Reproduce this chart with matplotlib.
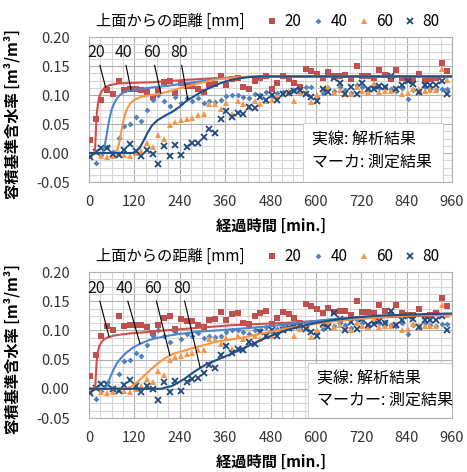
"""
上面からの距離ごとの容積基準含水率の経時変化（解析結果と測定結果の比較図）。
上段と下段は同じ測定データで、解析結果の線だけが異なる。
"""

import matplotlib.pyplot as plt
from matplotlib.patches import Rectangle
from matplotlib.ticker import MultipleLocator

plt.rcParams["font.family"] = ["Noto Sans CJK JP", "DejaVu Sans"]
plt.rcParams["axes.unicode_minus"] = False

# ---- 測定結果（マーカー） ----
TIME = [3, 18, 33, 48, 63, 78, 93, 108, 123, 138, 153, 168, 183, 198, 213, 228,
        243, 258, 273, 288, 303, 318, 333, 348, 363, 378, 393, 408, 423, 438,
        453, 468, 483, 498, 513, 528, 543, 558, 573, 588, 603, 618, 633, 648,
        663, 678, 693, 708, 723, 738, 753, 768, 783, 798, 813, 828, 843, 858,
        873, 888, 903, 918, 933, 948]

MEAS_20 = [0.022, 0.058, 0.091, 0.108, 0.101, 0.125, 0.108, 0.110, 0.110, 0.109,
           0.105, 0.096, 0.109, 0.122, 0.124, 0.103, 0.120, 0.116, 0.116, 0.110,
           0.105, 0.118, 0.119, 0.132, 0.118, 0.128, 0.130, 0.113, 0.111, 0.124,
           0.130, 0.133, 0.111, 0.121, 0.132, 0.128, 0.121, 0.113, 0.145, 0.142,
           0.136, 0.129, 0.139, 0.132, 0.133, 0.134, 0.127, 0.150, 0.132, 0.132,
           0.129, 0.143, 0.134, 0.127, 0.143, 0.130, 0.126, 0.127, 0.137, 0.124,
           0.127, 0.129, 0.156, 0.141]

MEAS_40 = [-0.003, -0.017, -0.004, 0.010, 0.001, 0.026, 0.047, 0.050, 0.062, 0.056,
           0.075, 0.091, 0.100, 0.090, 0.081, 0.097, 0.086, 0.094, 0.090, 0.095,
           0.087, 0.090, 0.088, 0.091, 0.098, 0.100, 0.100, 0.097, 0.094, 0.101,
           0.100, 0.106, 0.098, 0.103, 0.106, 0.104, 0.108, 0.103, 0.113, 0.114,
           0.097, 0.103, 0.112, 0.107, 0.113, 0.109, 0.104, 0.118, 0.113, 0.110,
           0.115, 0.112, 0.114, 0.110, 0.107, 0.112, 0.093, 0.109, 0.105, 0.113,
           0.110, 0.108, 0.111, 0.111]

MEAS_60 = [-0.003, 0.002, -0.005, -0.007, -0.005, 0.000, -0.004, -0.006, 0.000, 0.004,
           0.017, 0.011, 0.031, 0.024, 0.049, 0.054, 0.057, 0.059, 0.061, 0.066,
           0.067, 0.085, 0.084, 0.076, 0.087, 0.068, 0.090, 0.085, 0.080, 0.090,
           0.085, 0.090, 0.091, 0.097, 0.101, 0.107, 0.090, 0.103, 0.106, 0.088,
           0.100, 0.110, 0.114, 0.105, 0.109, 0.102, 0.101, 0.113, 0.107, 0.106,
           0.120, 0.106, 0.107, 0.107, 0.111, 0.101, 0.103, 0.111, 0.108, 0.107,
           0.108, 0.108, 0.144, 0.126]

MEAS_80 = [-0.007, 0.002, 0.009, 0.009, -0.001, -0.003, 0.006, 0.015, 0.004, -0.005,
           0.005, -0.001, -0.019, 0.012, -0.005, 0.013, -0.003, 0.011, 0.017, 0.018,
           0.027, 0.041, 0.035, 0.058, 0.073, 0.062, 0.069, 0.067, 0.080, 0.077,
           0.097, 0.091, 0.100, 0.091, 0.101, 0.104, 0.107, 0.109, 0.102, 0.097,
           0.090, 0.111, 0.106, 0.130, 0.120, 0.101, 0.114, 0.102, 0.120, 0.110,
           0.111, 0.116, 0.113, 0.133, 0.110, 0.117, 0.124, 0.119, 0.106, 0.117,
           0.118, 0.118, 0.124, 0.101]

# ---- 解析結果（実線）: 上段 ----
TOP_T20 = [0, 15, 17, 19, 21, 24, 28, 33, 42, 55, 78, 120, 166, 254, 333, 420, 500, 960]
TOP_V20 = [0, 0, 0.020, 0.050, 0.070, 0.087, 0.099, 0.106, 0.113, 0.117, 0.120, 0.121,
           0.122, 0.126, 0.129, 0.131, 0.132, 0.132]
TOP_T40 = [0, 36, 40, 45, 50, 55, 60, 66, 72, 80, 90, 104, 130, 166, 210, 254, 300,
           340, 400, 460, 960]
TOP_V40 = [0, 0, 0.008, 0.025, 0.045, 0.062, 0.075, 0.085, 0.092, 0.099, 0.104, 0.108,
           0.110, 0.113, 0.116, 0.120, 0.124, 0.128, 0.131, 0.132, 0.132]
TOP_T60 = [0, 68, 75, 80, 85, 90, 95, 102, 110, 120, 139, 165, 192, 220, 254, 290,
           329, 380, 440, 960]
TOP_V60 = [0, 0, 0.006, 0.018, 0.035, 0.053, 0.066, 0.078, 0.086, 0.092, 0.097, 0.100,
           0.103, 0.108, 0.114, 0.120, 0.126, 0.130, 0.132, 0.132]
TOP_T80 = [0, 115, 126, 135, 145, 155, 166, 180, 200, 223, 240, 258, 276, 294, 312,
           329, 346, 364, 382, 400, 425, 460, 960]
TOP_V80 = [0, 0, 0.003, 0.010, 0.022, 0.035, 0.047, 0.056, 0.064, 0.072, 0.080, 0.090,
           0.097, 0.104, 0.110, 0.115, 0.120, 0.124, 0.127, 0.129, 0.131, 0.132, 0.132]

# ---- 解析結果（実線）: 下段 ----
BOT_T20 = [0, 16, 18, 20, 23, 27, 33, 40, 50, 65, 85, 110, 150, 200, 260, 320, 380,
           450, 520, 600, 700, 800, 880, 960]
BOT_V20 = [0, 0, 0.020, 0.045, 0.062, 0.073, 0.080, 0.085, 0.088, 0.091, 0.093, 0.095,
           0.097, 0.100, 0.103, 0.106, 0.109, 0.111, 0.113, 0.116, 0.120, 0.123, 0.125,
           0.127]
BOT_T40 = [0, 40, 48, 55, 63, 73, 85, 99, 115, 135, 157, 179, 210, 240, 293, 340, 381,
           440, 505, 570, 637, 700, 770, 860, 960]
BOT_V40 = [0, 0, 0.006, 0.018, 0.030, 0.043, 0.053, 0.062, 0.070, 0.077, 0.083, 0.087,
           0.091, 0.094, 0.098, 0.100, 0.102, 0.105, 0.109, 0.114, 0.119, 0.122, 0.125,
           0.127, 0.128]
BOT_T60 = [0, 95, 110, 125, 140, 160, 179, 200, 223, 250, 276, 305, 338, 370, 400, 460,
           520, 575, 640, 700, 780, 860, 960]
BOT_V60 = [0, 0, 0.003, 0.010, 0.019, 0.031, 0.042, 0.052, 0.060, 0.065, 0.070, 0.075,
           0.081, 0.084, 0.087, 0.095, 0.103, 0.109, 0.115, 0.119, 0.123, 0.126, 0.127]
BOT_T80 = [0, 190, 220, 250, 280, 310, 340, 370, 400, 430, 460, 490, 520, 560, 600,
           650, 700, 760, 850, 960]
BOT_V80 = [0, 0, 0.005, 0.016, 0.030, 0.042, 0.050, 0.058, 0.067, 0.076, 0.085, 0.093,
           0.100, 0.107, 0.113, 0.118, 0.122, 0.125, 0.127, 0.129]

DEPTH_LABELS = ["20", "40", "60", "80"]
X_TICKS = [0, 120, 240, 360, 480, 600, 720, 840, 960]
Y_TICKS = [-0.05, 0.00, 0.05, 0.10, 0.15, 0.20]

MARKER_STYLE = [
    {"marker": "s", "color": "#C0504D", "ms": 5.0, "mew": 0},
    {"marker": "D", "color": "#4F81BD", "ms": 3.0, "mew": 0},
    {"marker": "^", "color": "#F79646", "ms": 4.8, "mew": 0},
    {"marker": "x", "color": "#1F497D", "ms": 4.0, "mew": 1.3},
]
LINE_COLORS = ["#CF4F4F", "#4A86C8", "#F79646", "#1F4E89"]

# 注釈ラベル (ラベル位置, 引出線の先)
TOP_NOTES = [((20, 0.173), (44, 0.113)), ((91, 0.173), (111, 0.109)),
             ((166, 0.173), (190, 0.103)), ((239, 0.173), (261, 0.093))]
BOT_NOTES = [((20, 0.172), (53, 0.089)), ((93, 0.172), (135, 0.077)),
             ((170, 0.172), (214, 0.057)), ((245, 0.172), (294, 0.036))]


def draw_panel(ax, curves, notes, box, marker_text):
    meas = [MEAS_20, MEAS_40, MEAS_60, MEAS_80]
    for label, values, st in zip(DEPTH_LABELS, meas, MARKER_STYLE):
        ax.plot(TIME, values, linestyle="none", marker=st["marker"], color=st["color"],
                markersize=st["ms"], markeredgewidth=st["mew"], label=label, zorder=3)

    for (t, v), color in zip(curves, LINE_COLORS):
        ax.plot(t, v, color=color, linewidth=1.5, zorder=4)

    for text, (xt, xy) in zip(DEPTH_LABELS, notes):
        ax.annotate(text, xy=xy, xytext=xt, ha="center", va="center", fontsize=11.5,
                    color="#111111", zorder=5,
                    arrowprops={"arrowstyle": "-", "color": "black", "lw": 0.8,
                                "shrinkA": 1, "shrinkB": 0})

    ax.set_xlim(0, 960)
    ax.set_ylim(-0.05, 0.20)
    ax.set_xticks(X_TICKS)
    ax.set_xticks(range(0, 961, 30), minor=True)
    ax.set_yticks(Y_TICKS)
    ax.set_yticklabels([f"{y:.2f}" for y in Y_TICKS])
    ax.yaxis.set_minor_locator(MultipleLocator(0.0125))
    ax.grid(which="major", color="#b0b0b0", linewidth=0.8)
    ax.grid(which="minor", color="#d6d6d6", linewidth=0.8)
    ax.set_axisbelow(True)
    ax.tick_params(which="both", length=0, labelsize=10.5, colors="#333333")
    ax.tick_params(axis="x", pad=9)
    ax.tick_params(axis="y", pad=14)
    for spine in ax.spines.values():
        spine.set_color("#b0b0b0")
        spine.set_linewidth(0.8)

    ax.set_xlabel("経過時間 [min.]", fontsize=11, fontweight="bold")
    ax.xaxis.set_label_coords(0.5, -0.245)
    ax.set_ylabel("容積基準含水率 [m³/m³]", fontsize=11, fontweight="bold")
    ax.yaxis.set_label_coords(-0.19, 0.47)

    # 凡例（上面からの距離）
    ax.text(0.02, 1.105, "上面からの距離 [mm]", transform=ax.transAxes, fontsize=11,
            ha="left", va="center")
    ax.legend(loc="center left", bbox_to_anchor=(0.49, 1.105), ncol=4, frameon=False,
              fontsize=11, handlelength=0.7, handletextpad=0.45, columnspacing=0.75,
              borderpad=0, borderaxespad=0)

    # 実線/マーカーの説明ボックス
    x0, x1, y1 = box
    ax.add_patch(Rectangle((x0, 0), x1 - x0, y1, transform=ax.transAxes,
                           facecolor="white", edgecolor="#d0d0d0", linewidth=0.8,
                           zorder=6))
    ax.text(x0 + 0.025, y1 * 0.70, "実線: 解析結果", transform=ax.transAxes,
            fontsize=11.5, va="center", ha="left", zorder=7)
    ax.text(x0 + 0.025, y1 * 0.33, marker_text, transform=ax.transAxes,
            fontsize=11.5, va="center", ha="left", zorder=7)


def main():
    fig = plt.figure(figsize=(4.67, 4.72), dpi=100)
    ax_top = fig.add_axes([0.1906, 0.6144, 0.7773, 0.3072])
    ax_bot = fig.add_axes([0.1906, 0.1144, 0.7773, 0.3093])

    top_curves = [(TOP_T20, TOP_V20), (TOP_T40, TOP_V40),
                  (TOP_T60, TOP_V60), (TOP_T80, TOP_V80)]
    bot_curves = [(BOT_T20, BOT_V20), (BOT_T40, BOT_V40),
                  (BOT_T60, BOT_V60), (BOT_T80, BOT_V80)]

    draw_panel(ax_top, top_curves, TOP_NOTES, (0.59, 0.975, 0.407), "マーカ: 測定結果")
    draw_panel(ax_bot, bot_curves, BOT_NOTES, (0.603, 1.0, 0.377), "マーカー: 測定結果")

    fig.savefig("out.png", dpi=100)


if __name__ == "__main__":
    main()
